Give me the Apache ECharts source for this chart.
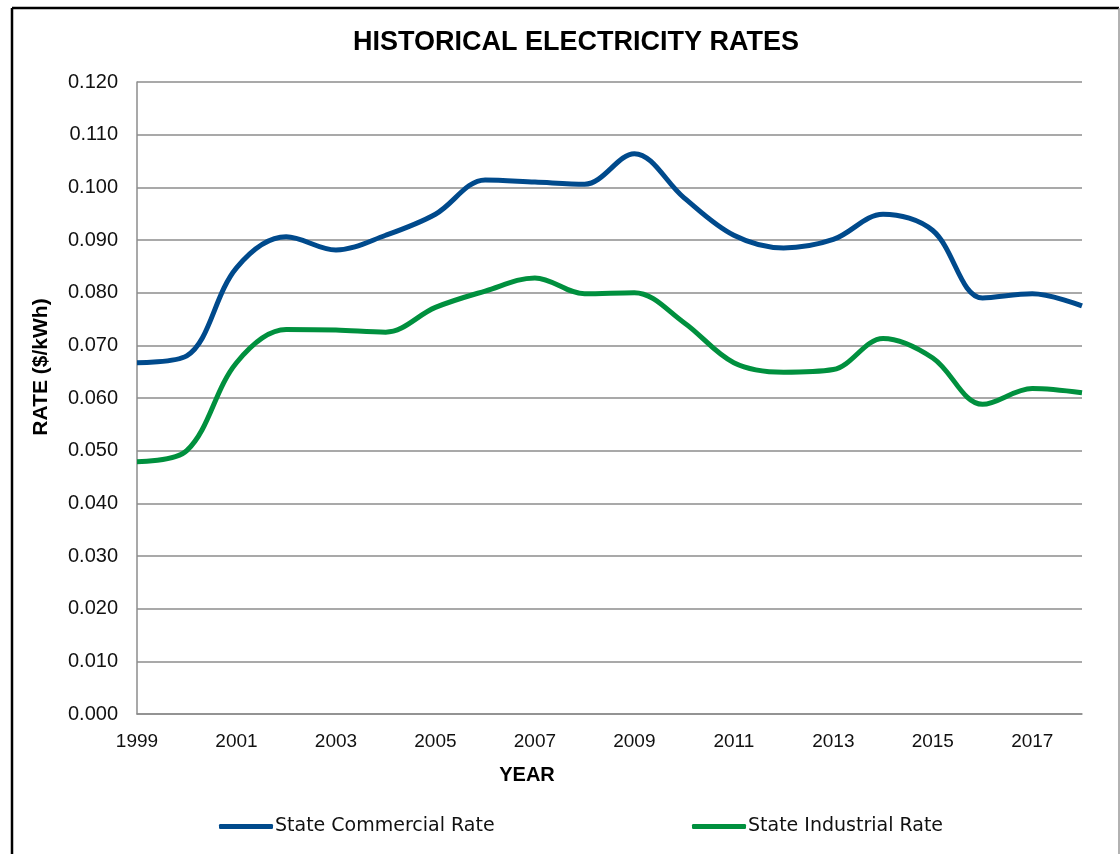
<!DOCTYPE html>
<html>
<head>
<meta charset="utf-8">
<script src="https://cdn.jsdelivr.net/npm/echarts@6/dist/echarts.min.js"></script>
<style>
html,body{margin:0;padding:0;background:#fff;}
#chart{width:1120px;height:854px;}
</style>
</head>
<body>
<div id="chart"></div>
<script>
const years = ['1999','2000','2001','2002','2003','2004','2005','2006','2007','2008','2009','2010','2011','2012','2013','2014','2015','2016','2017','2018'];
const commercialRate = [0.0667, 0.0680, 0.0847, 0.0906, 0.0881, 0.0909, 0.0949, 0.1014, 0.1010, 0.1006, 0.1064, 0.0980, 0.0909, 0.0885, 0.0901, 0.0949, 0.0918, 0.0790, 0.0798, 0.0775];
const industrialRate = [0.0479, 0.0500, 0.0667, 0.0730, 0.0729, 0.0725, 0.0772, 0.0803, 0.0828, 0.0798, 0.0800, 0.0743, 0.0667, 0.0649, 0.0654, 0.0713, 0.0676, 0.0588, 0.0618, 0.0610];
const seriesNames = ['State Commercial Rate', 'State Industrial Rate'];
const titleText = 'HISTORICAL ELECTRICITY RATES';
const yAxisTitle = 'RATE ($/kWh)';
const xAxisTitle = 'YEAR';

const chart = echarts.init(document.getElementById('chart'));
const blue = '#004A8C';
const green = '#00903E';
const gridColor = '#8C8C8C';
const labelFont = 'Liberation Sans';

chart.setOption({
  animation: false,
  backgroundColor: '#fff',
  grid: { left: 137, right: 38, top: 82, bottom: 140, containLabel: false },
  xAxis: {
    type: 'category',
    data: years,
    boundaryGap: false,
    axisLine: { show: true, lineStyle: { color: gridColor, width: 1.5 } },
    axisTick: { show: false },
    axisLabel: { interval: 1, color: '#111', fontFamily: labelFont, fontSize: 19, margin: 18 },
    splitLine: { show: false }
  },
  yAxis: {
    type: 'value',
    min: 0, max: 0.12, interval: 0.01,
    axisLine: { show: true, lineStyle: { color: gridColor, width: 1.5 } },
    axisTick: { show: false },
    axisLabel: { color: '#111', fontFamily: labelFont, fontSize: 20, margin: 19, formatter: v => v.toFixed(3) },
    splitLine: { show: true, lineStyle: { color: gridColor, width: 1.5 } }
  },
  legend: [
    { data: [seriesNames[0]], left: 214, top: 812, icon: 'roundRect', itemWidth: 54, itemHeight: 5, itemGap: 0,
      textStyle: { fontFamily: 'DejaVu Sans', fontSize: 19, color: '#111', padding: [0,0,0,-3] } },
    { data: [seriesNames[1]], left: 687, top: 812, icon: 'roundRect', itemWidth: 54, itemHeight: 5, itemGap: 0,
      textStyle: { fontFamily: 'DejaVu Sans', fontSize: 19, color: '#111', padding: [0,0,0,-3] } }
  ],
  series: [
    { name: seriesNames[0], type: 'line', data: commercialRate, smooth: 0.35, symbol: 'none',
      lineStyle: { color: blue, width: 5 }, itemStyle: { color: blue } },
    { name: seriesNames[1], type: 'line', data: industrialRate, smooth: 0.35, symbol: 'none',
      lineStyle: { color: green, width: 5 }, itemStyle: { color: green } }
  ],
  graphic: [
    { type: 'line', shape: { x1: 12, y1: 8, x2: 1119, y2: 8 }, style: { stroke: '#000', lineWidth: 2.5 } },
    { type: 'line', shape: { x1: 12, y1: 8, x2: 12, y2: 854 }, style: { stroke: '#000', lineWidth: 2.5 } },
    { type: 'line', shape: { x1: 1119, y1: 8, x2: 1119, y2: 854 }, style: { stroke: '#999', lineWidth: 1.5 } },
    { type: 'text', x: 576, y: 43, style: { text: titleText, font: 'bold 27px "Liberation Sans"', fill: '#000', textAlign: 'center', textVerticalAlign: 'middle' } },
    { type: 'text', x: 527, y: 775, style: { text: xAxisTitle, font: 'bold 20px "Liberation Sans"', fill: '#000', textAlign: 'center', textVerticalAlign: 'middle' } },
    { type: 'text', x: 41, y: 367, rotation: Math.PI / 2, style: { text: yAxisTitle, font: 'bold 21px "Liberation Sans"', fill: '#000', textAlign: 'center', textVerticalAlign: 'middle' } }
  ]
});
</script>
</body>
</html>
